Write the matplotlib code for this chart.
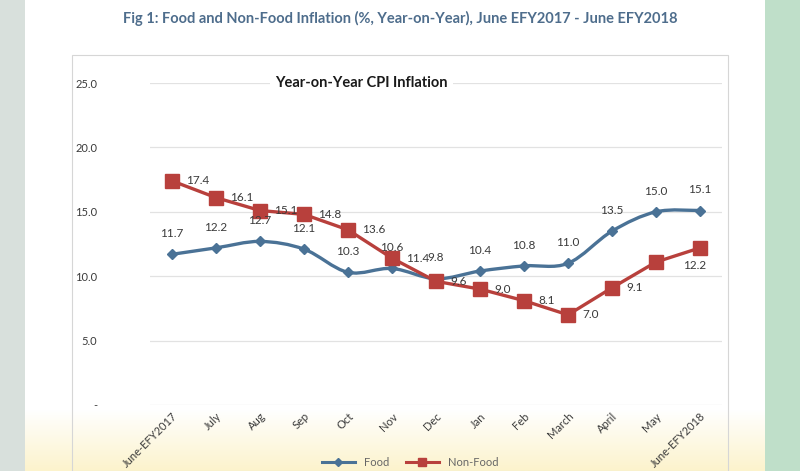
import matplotlib
matplotlib.use("Agg")
import matplotlib.pyplot as plt
from matplotlib.path import Path
from matplotlib.patches import PathPatch, Rectangle
from matplotlib.lines import Line2D
import numpy as np

plt.rcParams['font.family'] = ['Lato', 'DejaVu Sans']

months = ["June-EFY2017", "July", "Aug", "Sep", "Oct", "Nov", "Dec", "Jan",
          "Feb", "March", "April", "May", "June-EFY2018"]
food = [11.7, 12.2, 12.7, 12.1, 10.3, 10.6, 9.8, 10.4, 10.8, 11.0, 13.5, 15.0, 15.1]
nonfood = [17.4, 16.1, 15.1, 14.8, 13.6, 11.4, 9.6, 9.0, 8.1, 7.0, 9.1, 11.1, 12.2]
nonfood_labels = ["17.4", "16.1", "15.1", "14.8", "13.6", "11.4", "9.6", "9.0",
                  "8.1", "7.0", "9.1", "", "12.2"]
yticks = [0, 5, 10, 15, 20, 25]
ytick_labels = ["-", "5.0", "10.0", "15.0", "20.0", "25.0"]

FOOD_C = "#4a7296"
NONFOOD_C = "#b8403c"
TXT = "#3a3a3a"

fig = plt.figure(figsize=(8, 4.71), dpi=100)
fig.patch.set_facecolor("white")

# photo background strips
fig.add_artist(Rectangle((0, 0), 25/800, 1, transform=fig.transFigure,
                         facecolor="#d8e0dc", edgecolor="none", zorder=0))
fig.add_artist(Rectangle((765/800, 0), 35/800, 1, transform=fig.transFigure,
                         facecolor="#bfdfc9", edgecolor="none", zorder=0))
# chart box
fig.add_artist(Rectangle((72/800, 0), (728-72)/800, 1-55/471, transform=fig.transFigure,
                         facecolor="none", edgecolor="#d6d6d6", lw=0.8, zorder=1))
# yellow light at bottom
grad = np.linspace(0, 1, 50).reshape(-1, 1)
bax = fig.add_axes([0, 0, 1, 62/471], zorder=-1)
bax.imshow(grad, aspect="auto", cmap=matplotlib.colors.LinearSegmentedColormap.from_list(
    "y", ["#fcf3cc", "#ffffff"]), extent=[0, 1, 0, 1], origin="lower")
bax.set_axis_off()

fig.text(0.5, 1-18/471, "Fig 1: Food and Non-Food Inflation (%, Year-on-Year), June EFY2017 - June EFY2018",
         ha="center", va="center", fontsize=10.5, color="#4e6d8c", fontweight="bold")

ax = fig.add_axes([150/800, 1-405/471, (722-150)/800, (405-83)/471])
ax.set_facecolor("none")
x = np.arange(len(months))

ax.set_xlim(-0.5, len(months)-0.5)
ax.set_ylim(0, 25)
ax.set_yticks(yticks)
ax.set_yticklabels(ytick_labels)
ax.set_xticks(x)
ax.set_xticklabels(months, rotation=45, ha="right", rotation_mode="anchor")
ax.tick_params(axis="y", length=0, pad=38, labelsize=8, labelcolor=TXT)
ax.tick_params(axis="x", length=0, pad=4, labelsize=8, labelcolor=TXT)
for s in ax.spines.values():
    s.set_visible(False)
ax.grid(axis="y", color="#e2e2e2", lw=0.9)
ax.set_axisbelow(True)

# smooth food line via cubic Bezier (Catmull-Rom control points)
pts = np.column_stack([x, food]).astype(float)
verts = [tuple(pts[0])]
codes = [Path.MOVETO]
t = 1/6
for i in range(len(pts)-1):
    p0 = pts[i-1] if i > 0 else pts[i]
    p1, p2 = pts[i], pts[i+1]
    p3 = pts[i+2] if i+2 < len(pts) else pts[i+1]
    c1 = p1 + (p2 - p0) * t
    c2 = p2 - (p3 - p1) * t
    verts += [tuple(c1), tuple(c2), tuple(p2)]
    codes += [Path.CURVE4]*3
ax.add_patch(PathPatch(Path(verts, codes), facecolor="none", edgecolor=FOOD_C, lw=2.4, zorder=3))
ax.plot(x, food, ls="none", marker="D", ms=5, color=FOOD_C, zorder=4)

ax.plot(x, nonfood, color=NONFOOD_C, lw=2.4, marker="s", ms=10, zorder=5)

for xi, v in zip(x, food):
    ax.annotate(f"{v:.1f}", (xi, v), xytext=(0, 11), textcoords="offset points",
                ha="center", va="bottom", fontsize=8.5, color=TXT, zorder=6)
for xi, v, lab in zip(x, nonfood, nonfood_labels):
    if not lab:
        continue
    if xi == len(months)-1:
        ax.annotate(lab, (xi, v), xytext=(-4, -9), textcoords="offset points",
                    ha="center", va="top", fontsize=8.5, color=TXT, zorder=6)
    else:
        ax.annotate(lab, (xi, v), xytext=(10, 0), textcoords="offset points",
                    ha="left", va="center", fontsize=8.5, color=TXT, zorder=6)

ax.text(0.37, 1.0, "Year-on-Year CPI Inflation", transform=ax.transAxes,
        ha="center", va="center", fontsize=10.5, fontweight="bold", color="#1a1a1a",
        bbox=dict(facecolor="white", edgecolor="none", pad=4))

handles = [Line2D([], [], color=FOOD_C, lw=2.2, marker="D", ms=4),
           Line2D([], [], color=NONFOOD_C, lw=2.2, marker="s", ms=6)]
fig.legend(handles, ["Food", "Non-Food"], loc="center", bbox_to_anchor=(410/800, 1-462/471),
           ncol=2, frameon=False, fontsize=8, labelcolor="#666666", handlelength=3,
           columnspacing=1.5)

fig.savefig("out.png", dpi=100)
